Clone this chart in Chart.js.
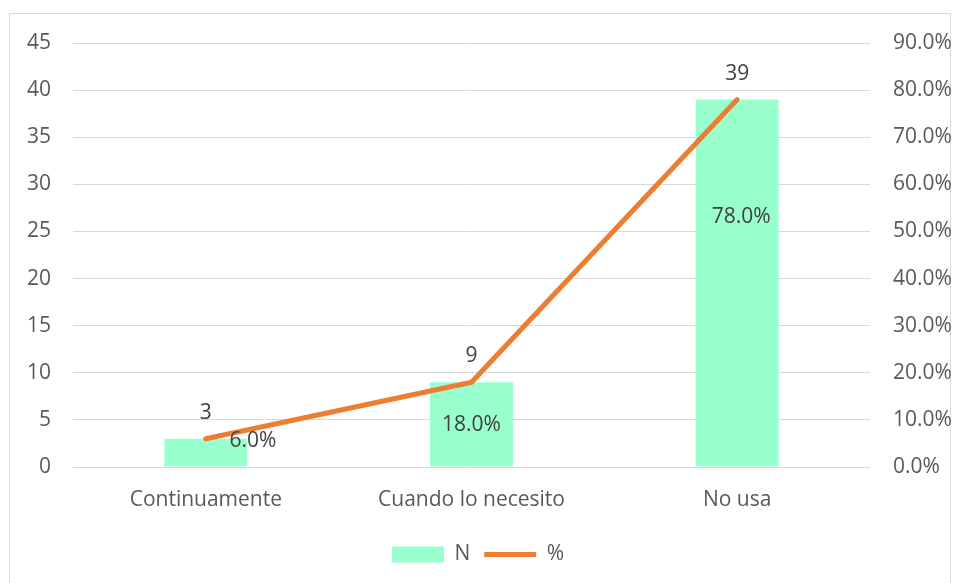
<!DOCTYPE html>
<html>
<head>
<meta charset="utf-8">
<script src="https://cdn.jsdelivr.net/npm/chart.js@4.4.1/dist/chart.umd.min.js"></script>
<style>
  html, body { margin: 0; padding: 0; background: #fff; }
  #wrap { position: absolute; left: 0; top: 0; width: 956px; height: 583px; }
</style>
</head>
<body>
<div id="wrap"><canvas id="chart" width="956" height="583"></canvas></div>
<script>
// data
var categories = ['Continuamente', 'Cuando lo necesito', 'No usa'];
var countValues = [3, 9, 39];
var percentValues = [0.06, 0.18, 0.78];
var leftTicks = { min: 0, max: 45, step: 5 };
var rightTicks = { min: 0, max: 0.9, step: 0.1 };

// where Excel put the % labels, relative to the line points
var percentLabelOffsets = [[47, 2], [0, 43], [4, 117]];

var textColor = '#595959';
var labelColor = '#404040';
var gridColor = '#d9d9d9';
var fontFamily = '"Open Sans", "Liberation Sans", sans-serif';
var fontSize = 21;

function formatPercent(v) {
	return (v * 100).toFixed(1) + '%';
}

// frame round the whole chart
const framePlugin = {
	id: 'frame',
	beforeDraw: function(chart) {
		const ctx = chart.ctx;
		ctx.save();
		ctx.strokeStyle = gridColor;
		ctx.lineWidth = 1;
		ctx.strokeRect(9.5, 13.5, 941, 580);
		ctx.restore();
	}
};

// data labels for bars (above) and line (offset)
const labelPlugin = {
	id: 'valueLabels',
	afterDatasetsDraw: function(chart) {
		const ctx = chart.ctx;
		ctx.save();
		ctx.font = fontSize + 'px ' + fontFamily;
		ctx.fillStyle = labelColor;
		ctx.textAlign = 'center';
		ctx.textBaseline = 'middle';

		const barMeta = chart.getDatasetMeta(0);
		barMeta.data.forEach(function(bar, i) {
			ctx.fillText(String(countValues[i]), bar.x, bar.y - 26);
		});

		const lineMeta = chart.getDatasetMeta(1);
		lineMeta.data.forEach(function(pt, i) {
			let off = percentLabelOffsets[i];
			ctx.fillText(formatPercent(percentValues[i]), pt.x + off[0], pt.y + off[1]);
		});
		ctx.restore();
	}
};

new Chart(document.getElementById('chart'), {
	data: {
		labels: categories,
		datasets: [
			{
				type: 'bar',
				label: 'N',
				data: countValues,
				backgroundColor: '#99ffcc',
				categoryPercentage: 1,
				barPercentage: 0.312,
				yAxisID: 'y',
				pointStyle: 'rect',
				order: 2
			},
			{
				type: 'line',
				label: '%',
				data: percentValues,
				borderColor: '#ed7d31',
				backgroundColor: '#ed7d31',
				borderWidth: 5,
				borderCapStyle: 'round',
				borderJoinStyle: 'round',
				pointRadius: 0,
				pointHoverRadius: 0,
				pointStyle: 'line',
				tension: 0,
				yAxisID: 'y1',
				order: 1
			}
		]
	},
	options: {
		responsive: false,
		animation: false,
		events: [],
		layout: { padding: { top: 43, left: 0, right: 0, bottom: 8 } },
		plugins: {
			tooltip: { enabled: false },
			legend: {
				position: 'bottom',
				labels: {
					usePointStyle: true,
					pointStyleWidth: 52,
					boxHeight: 16,
					padding: 14,
					color: textColor,
					font: { family: fontFamily, size: fontSize },
					sort: function(a, b) { return a.datasetIndex - b.datasetIndex; }
				}
			}
		},
		scales: {
			x: {
				afterFit: function(scale) { scale.height = 63; },
				grid: { display: false },
				border: { display: false },
				ticks: {
					color: textColor,
					padding: 12,
					maxRotation: 0,
					font: { family: fontFamily, size: fontSize }
				}
			},
			y: {
				position: 'left',
				min: leftTicks.min,
				max: leftTicks.max,
				afterFit: function(scale) { scale.width = 73; },
				grid: { color: gridColor, lineWidth: 1, drawTicks: false },
				border: { display: false },
				ticks: {
					stepSize: leftTicks.step,
					color: textColor,
					padding: 22,
					font: { family: fontFamily, size: fontSize }
				}
			},
			y1: {
				position: 'right',
				min: rightTicks.min,
				max: rightTicks.max,
				afterFit: function(scale) { scale.width = 86; },
				grid: { drawOnChartArea: false, drawTicks: false },
				border: { display: false },
				ticks: {
					stepSize: rightTicks.step,
					color: textColor,
					padding: 23,
					font: { family: fontFamily, size: fontSize },
					callback: function(v) { return formatPercent(v); }
				}
			}
		}
	},
	plugins: [framePlugin, labelPlugin]
});
</script>
</body>
</html>
